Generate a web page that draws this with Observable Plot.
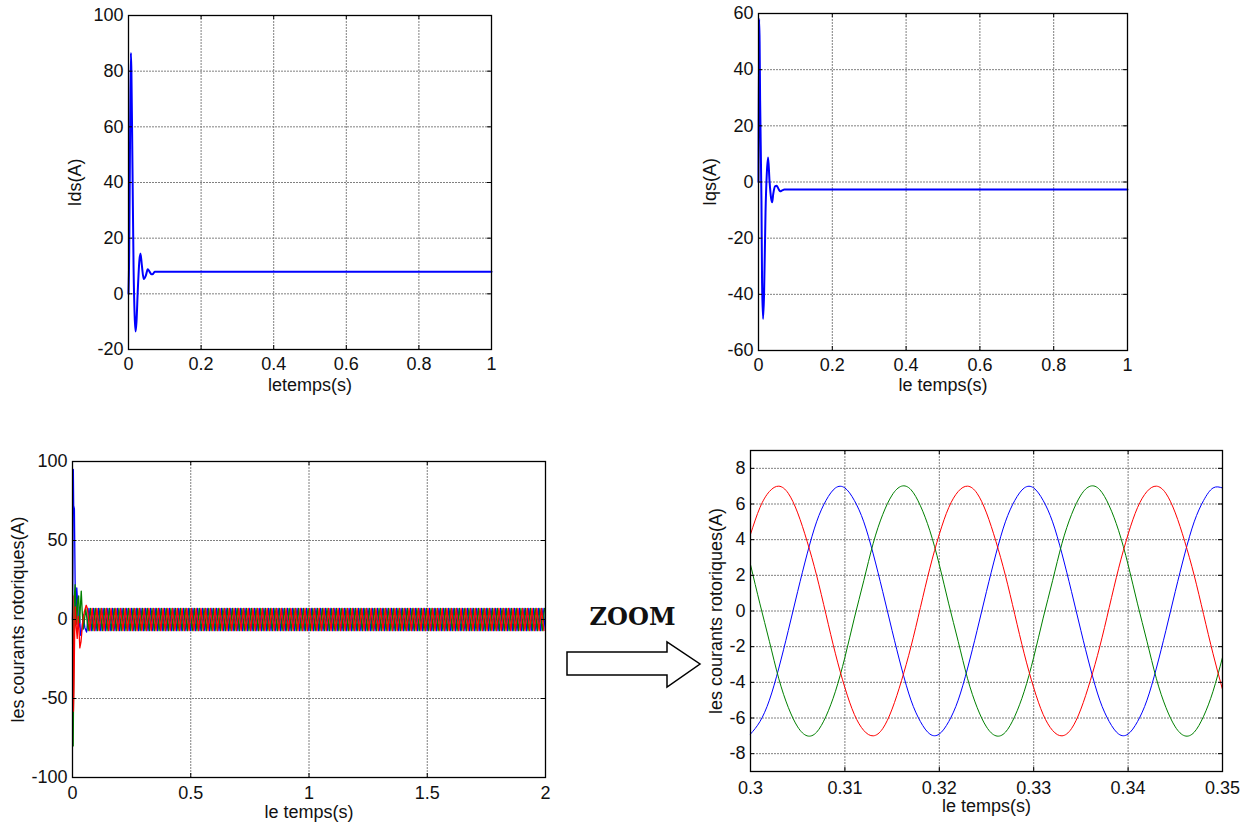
<!DOCTYPE html>
<html><head><meta charset="utf-8">
<script src="https://cdn.jsdelivr.net/npm/d3@7"></script>
<script src="https://cdn.jsdelivr.net/npm/@observablehq/plot@0.6"></script>
<style>
body{margin:0;background:#fff;}
#fig{position:relative;width:1253px;height:825px;background:#fff;overflow:hidden;}
#zoomLabel{position:absolute;left:560px;top:602px;width:145px;text-align:center;font:bold 24px "DejaVu Serif",serif;color:#111;line-height:30px;}
#arrow{position:absolute;left:0;top:0;}
</style>
</head><body>
<div id="fig">
  <div id="zoomLabel">ZOOM</div>
  <svg id="arrow" width="1253" height="825"><polygon points="567,652 667,652 667,642 700,664 667,687 667,675 567,675" fill="#fff" stroke="#000" stroke-width="1.5" stroke-linejoin="miter"/></svg>
</div>
<script>
// ---------- Ids (A) ----------
const idsT = [0,0.002,0.0045,0.0066,0.008,0.011,0.014,0.017,0.0196,0.022,0.0255,0.03,0.033,0.0366,0.042,0.0477,0.053,0.058,0.063,0.068,0.072,1];
const idsV = [0,15,60,86.5,80,45,9,-8,-13.5,-10,1,12,14.5,10.5,5.3,6.5,8.8,8,7,7.2,7.9,7.9];
// ---------- Iqs (A) ----------
const iqsT = [0,0.0017,0.003,0.0044,0.008,0.0097,0.0124,0.0151,0.019,0.0225,0.026,0.0298,0.0344,0.037,0.04,0.045,0.049,0.054,0.0586,0.064,0.07,1];
const iqsV = [0,58,50,29,-6.5,-36,-48.8,-40,-11,3,8.7,0.5,-6,-7.2,-4.2,-1.5,-1.3,-2.4,-3.3,-3,-2.7,-2.7];

// ---------- rotor currents 0..2 s : start-up transient ----------
const redTrT   = [0,0.002,0.004,0.006,0.009,0.012,0.016,0.02,0.024,0.027,0.031,0.036,0.042,0.05,0.058,0.063,0.073];
const redTrV   = [0,15,-58,-45,-10,8,-5,-12,2,-5,-18,-14,-3,5,9,7,-7];
const blueTrT  = [0,0.0015,0.0035,0.005,0.008,0.011,0.014,0.018,0.022,0.026,0.03,0.034,0.04,0.046,0.052,0.0595,0.0695];
const blueTrV  = [0,30,95,72,70,25,-2,20,10,-5,2,-10,-6,3,-5,-8,7];
const greenTrT = [0,0.0015,0.003,0.005,0.008,0.011,0.014,0.018,0.022,0.026,0.03,0.034,0.037,0.041,0.046,0.0562,0.0662];
const greenTrV = [0,-45,-80,-35,15,22,10,-3,12,15,-2,10,18,5,-6,7,-7];

// ---------- rotor currents : steady-state extremes (times in ms) ----------
const redSsMs = [83,93,103,113,123,133,143,153,163,173,183,193,203,213,223,233,243,253,263,273,283,293,303,313,323,333,343,353,363,373,383,393,403,413,423,433,443,453,463,473,483,493,503,513,523,533,543,553,563,573,583,593,603,613,623,633,643,653,663,673,683,693,703,713,723,733,743,753,763,773,783,793,803,813,823,833,843,853,863,873,883,893,903,913,923,933,943,953,963,973,983,993,1003,1013,1023,1033,1043,1053,1063,1073,1083,1093,1103,1113,1123,1133,1143,1153,1163,1173,1183,1193,1203,1213,1223,1233,1243,1253,1263,1273,1283,1293,1303,1313,1323,1333,1343,1353,1363,1373,1383,1393,1403,1413,1423,1433,1443,1453,1463,1473,1483,1493,1503,1513,1523,1533,1543,1553,1563,1573,1583,1593,1603,1613,1623,1633,1643,1653,1663,1673,1683,1693,1703,1713,1723,1733,1743,1753,1763,1773,1783,1793,1803,1813,1823,1833,1843,1853,1863,1873,1883,1893,1903,1913,1923,1933,1943,1953,1963,1973,1983,1993];
const redSsV = [7,-7,7,-7,7,-7,7,-7,7,-7, 7,-7,7,-7,7,-7,7,-7,7,-7, 7,-7,7,-7,7,-7,7,-7,7,-7, 7,-7,7,-7,7,-7,7,-7,7,-7, 7,-7,7,-7,7,-7,7,-7,7,-7, 7,-7,7,-7,7,-7,7,-7,7,-7, 7,-7,7,-7,7,-7,7,-7,7,-7, 7,-7,7,-7,7,-7,7,-7,7,-7, 7,-7,7,-7,7,-7,7,-7,7,-7, 7,-7,7,-7,7,-7,7,-7,7,-7, 7,-7,7,-7,7,-7,7,-7,7,-7, 7,-7,7,-7,7,-7,7,-7,7,-7, 7,-7,7,-7,7,-7,7,-7,7,-7, 7,-7,7,-7,7,-7,7,-7,7,-7, 7,-7,7,-7,7,-7,7,-7,7,-7, 7,-7,7,-7,7,-7,7,-7,7,-7, 7,-7,7,-7,7,-7,7,-7,7,-7, 7,-7,7,-7,7,-7,7,-7,7,-7, 7,-7,7,-7,7,-7,7,-7,7,-7, 7,-7];
const blueSsMs = [79.5,89.5,99.5,109.5,119.5,129.5,139.5,149.5,159.5,169.5,179.5,189.5,199.5,209.5,219.5,229.5,239.5,249.5,259.5,269.5,279.5,289.5,299.5,309.5,319.5,329.5,339.5,349.5,359.5,369.5,379.5,389.5,399.5,409.5,419.5,429.5,439.5,449.5,459.5,469.5,479.5,489.5,499.5,509.5,519.5,529.5,539.5,549.5,559.5,569.5,579.5,589.5,599.5,609.5,619.5,629.5,639.5,649.5,659.5,669.5,679.5,689.5,699.5,709.5,719.5,729.5,739.5,749.5,759.5,769.5,779.5,789.5,799.5,809.5,819.5,829.5,839.5,849.5,859.5,869.5,879.5,889.5,899.5,909.5,919.5,929.5,939.5,949.5,959.5,969.5,979.5,989.5,999.5,1009.5,1019.5,1029.5,1039.5,1049.5,1059.5,1069.5,1079.5,1089.5,1099.5,1109.5,1119.5,1129.5,1139.5,1149.5,1159.5,1169.5,1179.5,1189.5,1199.5,1209.5,1219.5,1229.5,1239.5,1249.5,1259.5,1269.5,1279.5,1289.5,1299.5,1309.5,1319.5,1329.5,1339.5,1349.5,1359.5,1369.5,1379.5,1389.5,1399.5,1409.5,1419.5,1429.5,1439.5,1449.5,1459.5,1469.5,1479.5,1489.5,1499.5,1509.5,1519.5,1529.5,1539.5,1549.5,1559.5,1569.5,1579.5,1589.5,1599.5,1609.5,1619.5,1629.5,1639.5,1649.5,1659.5,1669.5,1679.5,1689.5,1699.5,1709.5,1719.5,1729.5,1739.5,1749.5,1759.5,1769.5,1779.5,1789.5,1799.5,1809.5,1819.5,1829.5,1839.5,1849.5,1859.5,1869.5,1879.5,1889.5,1899.5,1909.5,1919.5,1929.5,1939.5,1949.5,1959.5,1969.5,1979.5,1989.5,1999.5];
const blueSsV = [-7,7,-7,7,-7,7,-7,7,-7,7, -7,7,-7,7,-7,7,-7,7,-7,7, -7,7,-7,7,-7,7,-7,7,-7,7, -7,7,-7,7,-7,7,-7,7,-7,7, -7,7,-7,7,-7,7,-7,7,-7,7, -7,7,-7,7,-7,7,-7,7,-7,7, -7,7,-7,7,-7,7,-7,7,-7,7, -7,7,-7,7,-7,7,-7,7,-7,7, -7,7,-7,7,-7,7,-7,7,-7,7, -7,7,-7,7,-7,7,-7,7,-7,7, -7,7,-7,7,-7,7,-7,7,-7,7, -7,7,-7,7,-7,7,-7,7,-7,7, -7,7,-7,7,-7,7,-7,7,-7,7, -7,7,-7,7,-7,7,-7,7,-7,7, -7,7,-7,7,-7,7,-7,7,-7,7, -7,7,-7,7,-7,7,-7,7,-7,7, -7,7,-7,7,-7,7,-7,7,-7,7, -7,7,-7,7,-7,7,-7,7,-7,7, -7,7,-7,7,-7,7,-7,7,-7,7, -7,7,-7];
const greenSsMs = [76.2,86.2,96.2,106.2,116.2,126.2,136.2,146.2,156.2,166.2,176.2,186.2,196.2,206.2,216.2,226.2,236.2,246.2,256.2,266.2,276.2,286.2,296.2,306.2,316.2,326.2,336.2,346.2,356.2,366.2,376.2,386.2,396.2,406.2,416.2,426.2,436.2,446.2,456.2,466.2,476.2,486.2,496.2,506.2,516.2,526.2,536.2,546.2,556.2,566.2,576.2,586.2,596.2,606.2,616.2,626.2,636.2,646.2,656.2,666.2,676.2,686.2,696.2,706.2,716.2,726.2,736.2,746.2,756.2,766.2,776.2,786.2,796.2,806.2,816.2,826.2,836.2,846.2,856.2,866.2,876.2,886.2,896.2,906.2,916.2,926.2,936.2,946.2,956.2,966.2,976.2,986.2,996.2,1006.2,1016.2,1026.2,1036.2,1046.2,1056.2,1066.2,1076.2,1086.2,1096.2,1106.2,1116.2,1126.2,1136.2,1146.2,1156.2,1166.2,1176.2,1186.2,1196.2,1206.2,1216.2,1226.2,1236.2,1246.2,1256.2,1266.2,1276.2,1286.2,1296.2,1306.2,1316.2,1326.2,1336.2,1346.2,1356.2,1366.2,1376.2,1386.2,1396.2,1406.2,1416.2,1426.2,1436.2,1446.2,1456.2,1466.2,1476.2,1486.2,1496.2,1506.2,1516.2,1526.2,1536.2,1546.2,1556.2,1566.2,1576.2,1586.2,1596.2,1606.2,1616.2,1626.2,1636.2,1646.2,1656.2,1666.2,1676.2,1686.2,1696.2,1706.2,1716.2,1726.2,1736.2,1746.2,1756.2,1766.2,1776.2,1786.2,1796.2,1806.2,1816.2,1826.2,1836.2,1846.2,1856.2,1866.2,1876.2,1886.2,1896.2,1906.2,1916.2,1926.2,1936.2,1946.2,1956.2,1966.2,1976.2,1986.2,1996.2];
const greenSsV = [7,-7,7,-7,7,-7,7,-7,7,-7, 7,-7,7,-7,7,-7,7,-7,7,-7, 7,-7,7,-7,7,-7,7,-7,7,-7, 7,-7,7,-7,7,-7,7,-7,7,-7, 7,-7,7,-7,7,-7,7,-7,7,-7, 7,-7,7,-7,7,-7,7,-7,7,-7, 7,-7,7,-7,7,-7,7,-7,7,-7, 7,-7,7,-7,7,-7,7,-7,7,-7, 7,-7,7,-7,7,-7,7,-7,7,-7, 7,-7,7,-7,7,-7,7,-7,7,-7, 7,-7,7,-7,7,-7,7,-7,7,-7, 7,-7,7,-7,7,-7,7,-7,7,-7, 7,-7,7,-7,7,-7,7,-7,7,-7, 7,-7,7,-7,7,-7,7,-7,7,-7, 7,-7,7,-7,7,-7,7,-7,7,-7, 7,-7,7,-7,7,-7,7,-7,7,-7, 7,-7,7,-7,7,-7,7,-7,7,-7, 7,-7,7,-7,7,-7,7,-7,7,-7, 7,-7,7,-7,7,-7,7,-7,7,-7, 7,-7,7];

// ---------- zoom window 0.30..0.35 s ----------
const zoomT = [0.300,0.301,0.302,0.303,0.304,0.305,0.306,0.307,0.308,0.309,0.310,0.311,0.312,0.313,0.314,0.315,0.316,0.317,0.318,0.319,0.320,0.321,0.322,0.323,0.324,0.325,0.326,0.327,0.328,0.329,0.330,0.331,0.332,0.333,0.334,0.335,0.336,0.337,0.338,0.339,0.340,0.341,0.342,0.343,0.344,0.345,0.346,0.347,0.348,0.349,0.350];
const zoomRed = [4.3,5.8,6.7,7.0,6.6,5.5,3.9,2.0,-0.2,-2.4,-4.3,-5.8,-6.7,-7.0,-6.6,-5.5,-3.9,-2.0,0.2,2.4, 4.3,5.8,6.7,7.0,6.6,5.5,3.9,2.0,-0.2,-2.4,-4.3,-5.8,-6.7,-7.0,-6.6,-5.5,-3.9,-2.0,0.2,2.4, 4.3,5.8,6.7,7.0,6.6,5.5,3.9,2.0,-0.2,-2.4,-4.4];
const zoomBlue = [-6.9,-6.2,-5.0,-3.2,-1.1,1.1,3.2,5.0,6.2,6.9,6.9,6.2,5.0,3.2,1.1,-1.1,-3.2,-5.0,-6.2,-6.9, -6.9,-6.2,-5.0,-3.2,-1.1,1.1,3.2,5.0,6.2,6.9,6.9,6.2,5.0,3.2,1.1,-1.1,-3.2,-5.0,-6.2,-6.9, -6.9,-6.2,-5.0,-3.2,-1.1,1.1,3.2,5.0,6.2,6.9,6.9];
const zoomGreen = [2.6,0.4,-1.7,-3.8,-5.4,-6.5,-7.0,-6.8,-5.9,-4.5,-2.6,-0.4,1.7,3.8,5.4,6.5,7.0,6.8,5.9,4.5, 2.6,0.4,-1.7,-3.8,-5.4,-6.5,-7.0,-6.8,-5.9,-4.5,-2.6,-0.4,1.7,3.8,5.4,6.5,7.0,6.8,5.9,4.5, 2.6,0.4,-1.7,-3.8,-5.4,-6.5,-7.0,-6.8,-5.9,-4.5,-2.6];

// ---------- ticks & labels ----------
const ticksT1 = [0,0.2,0.4,0.6,0.8,1];
const ticksIds = [-20,0,20,40,60,80,100];
const ticksIqs = [-60,-40,-20,0,20,40,60];
const ticksT2 = [0,0.5,1,1.5,2];
const ticksRotor = [-100,-50,0,50,100];
const ticksTz = [0.3,0.31,0.32,0.33,0.34,0.35];
const ticksRotorZ = [-8,-6,-4,-2,0,2,4,6,8];
const labels = {ids: "Ids(A)", iqs: "Iqs(A)", rotor: "les courants rotoriques(A)", t1: "letemps(s)", t: "le temps(s)"};

// ---------- helpers ----------
function rows(T, V, k = 1) {
  if (T.length !== V.length) throw new Error("length mismatch " + T.length + " vs " + V.length);
  return T.map((t, i) => ({t: t * k, v: V[i]}));
}
const fig = document.getElementById("fig");
const FS = 18;
function panel(c) {
  const iw = c.width - c.ml - c.mr, ih = c.height - c.mt - c.mb, tl = 4;
  const grid = {stroke: "#808080", strokeDasharray: "2,1", strokeWidth: 1};
  const txt = {fontSize: FS, fill: "#111", lineAnchor: "middle"};
  const marks = [
    Plot.ruleX(c.xTicks, {x: d => d, ...grid}),
    Plot.ruleY(c.yTicks, {y: d => d, ...grid}),
    ...c.series.map(s => Plot.line(s.data, {x: "t", y: "v", stroke: s.stroke, strokeWidth: s.sw, curve: s.curve || "linear"})),
    Plot.frame({stroke: "#000", strokeWidth: 1.3}),
    Plot.ruleX(c.xTicks, {x: d => d, insetTop: ih - tl, stroke: "#000"}),
    Plot.ruleX(c.xTicks, {x: d => d, insetBottom: ih - tl, stroke: "#000"}),
    Plot.ruleY(c.yTicks, {y: d => d, insetRight: iw - tl, stroke: "#000"}),
    Plot.ruleY(c.yTicks, {y: d => d, insetLeft: iw - tl, stroke: "#000"}),
    Plot.text(c.xTicks, {x: d => d, frameAnchor: "bottom", dy: c.xTickDy, text: d => String(d), textAnchor: "middle", ...txt}),
    Plot.text(c.yTicks, {y: d => d, frameAnchor: "left", dx: -5, textAnchor: "end", text: d => String(d), ...txt}),
    Plot.text([c.xLabel], {frameAnchor: "bottom", dy: c.xLabelDy, text: d => d, textAnchor: "middle", ...txt}),
    Plot.text([c.yLabel], {frameAnchor: "left", dx: c.yLabelDx, rotate: -90, text: d => d, textAnchor: "middle", ...txt})
  ];
  const svg = Plot.plot({
    width: c.width, height: c.height,
    marginLeft: c.ml, marginRight: c.mr, marginTop: c.mt, marginBottom: c.mb,
    x: {domain: c.xDomain, axis: null},
    y: {domain: c.yDomain, axis: null},
    style: {fontFamily: "'Liberation Sans', Arial, sans-serif", background: "transparent", overflow: "visible", color: "#000"},
    marks
  });
  svg.style.position = "absolute";
  svg.style.left = c.left + "px";
  svg.style.top = c.top + "px";
  svg.style.maxWidth = "none";
  fig.appendChild(svg);
}

panel({left: 0, top: 0, width: 500, height: 400, ml: 128, mr: 9, mt: 15, mb: 51,
  xDomain: [0, 1], yDomain: [-20, 100], xTicks: ticksT1, yTicks: ticksIds,
  xLabel: labels.t1, yLabel: labels.ids, xTickDy: 15, xLabelDy: 36, yLabelDx: -53,
  series: [{data: rows(idsT, idsV), stroke: "#0000ff", sw: 2, curve: "monotone-x"}]});

panel({left: 640, top: 0, width: 500, height: 400, ml: 118, mr: 13, mt: 13, mb: 50,
  xDomain: [0, 1], yDomain: [-60, 60], xTicks: ticksT1, yTicks: ticksIqs,
  xLabel: labels.t, yLabel: labels.iqs, xTickDy: 15, xLabelDy: 35, yLabelDx: -48,
  series: [{data: rows(iqsT, iqsV), stroke: "#0000ff", sw: 2, curve: "monotone-x"}]});

panel({left: 0, top: 420, width: 560, height: 400, ml: 72, mr: 15, mt: 41, mb: 43,
  xDomain: [0, 2], yDomain: [-100, 100], xTicks: ticksT2, yTicks: ticksRotor,
  xLabel: labels.t, yLabel: labels.rotor, xTickDy: 16, xLabelDy: 35, yLabelDx: -54,
  series: [
    {data: rows(blueTrT, blueTrV).concat(rows(blueSsMs, blueSsV, 0.001)), stroke: "#0000ff", sw: 1.3},
    {data: rows(greenTrT, greenTrV).concat(rows(greenSsMs, greenSsV, 0.001)), stroke: "#008000", sw: 1.3},
    {data: rows(redTrT, redTrV).concat(rows(redSsMs, redSsV, 0.001)), stroke: "#ff0000", sw: 1.3}
  ]});

panel({left: 640, top: 420, width: 613, height: 400, ml: 110, mr: 31, mt: 30, mb: 49,
  xDomain: [0.3, 0.35], yDomain: [-9, 9], xTicks: ticksTz, yTicks: ticksRotorZ,
  xLabel: labels.t, yLabel: labels.rotor, xTickDy: 17, xLabelDy: 35, yLabelDx: -34,
  series: [
    {data: rows(zoomT, zoomBlue), stroke: "#0000ff", sw: 1, curve: "natural"},
    {data: rows(zoomT, zoomGreen), stroke: "#008000", sw: 1, curve: "natural"},
    {data: rows(zoomT, zoomRed), stroke: "#ff0000", sw: 1, curve: "natural"}
  ]});
</script>
</body></html>
